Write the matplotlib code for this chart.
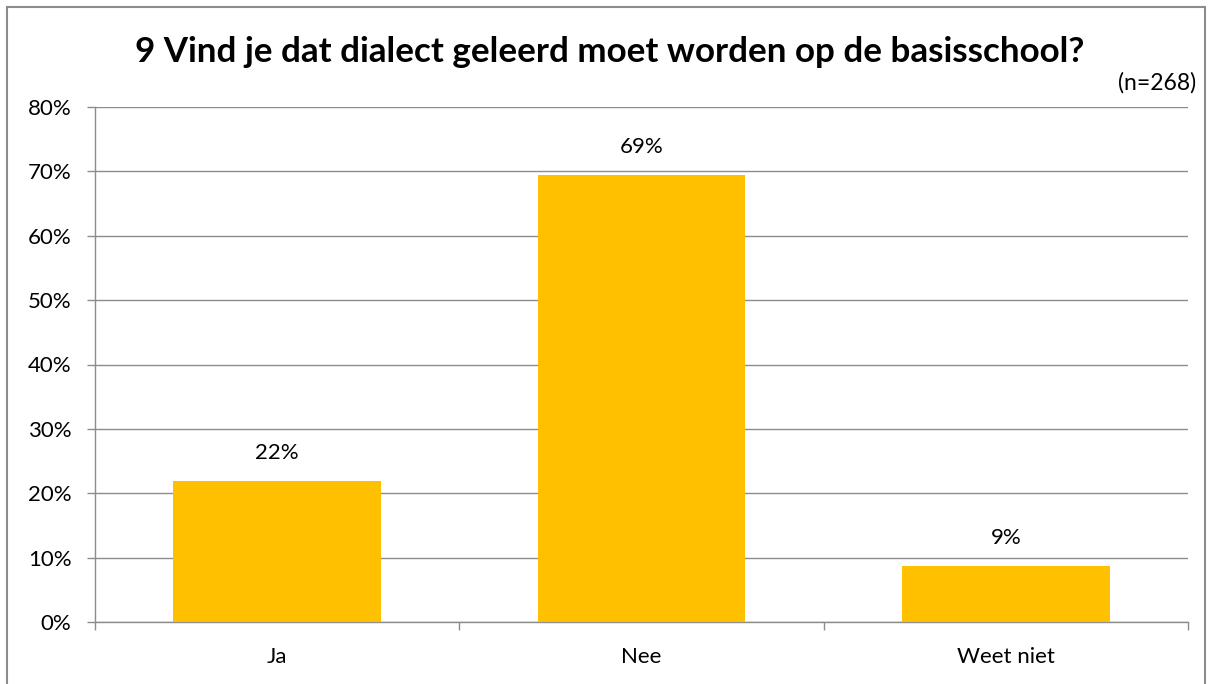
import matplotlib.pyplot as plt
from matplotlib.patches import Rectangle

categories = ['Ja', 'Nee', 'Weet niet']
values = [21.9, 69.4, 8.7]
labels = ['22%', '69%', '9%']
yticks = [0, 10, 20, 30, 40, 50, 60, 70, 80]

plt.rcParams['font.family'] = ['Lato', 'DejaVu Sans']

W, H = 1213, 684
fig = plt.figure(figsize=(W / 100, H / 100), dpi=100)
ax = fig.add_axes([95 / W, 62 / H, (1188 - 95) / W, (622 - 107) / H])

grid_c = '#8c8c8c'
x = range(len(categories))
ax.bar(x, values, width=0.57, color='#ffc000', zorder=3)
for i, v in enumerate(values):
    ax.annotate(labels[i], (i, v), xytext=(0, 13), textcoords='offset points',
                ha='center', va='bottom', fontsize=16)

ax.set_xlim(-0.5, len(categories) - 0.5)
ax.set_ylim(0, 80)
ax.set_yticks(yticks)
ax.set_yticklabels([f'{t}%' for t in yticks], fontsize=16)
ax.yaxis.grid(True, color=grid_c, linewidth=1, zorder=0)

# categorie-labels tussen de tickmarks
ax.set_xticks([-0.5, 0.5, 1.5, 2.5])
ax.set_xticklabels([])
ax.set_xticks(list(x), minor=True)
ax.set_xticklabels(categories, minor=True, fontsize=16)
ax.tick_params(axis='x', which='minor', length=0, pad=18)
ax.tick_params(axis='x', which='major', length=6, color=grid_c, width=1)
ax.tick_params(axis='y', length=6, color=grid_c, width=1, pad=11)

for s in ['top', 'right']:
    ax.spines[s].set_visible(False)
for s in ['left', 'bottom']:
    ax.spines[s].set_color(grid_c)
    ax.spines[s].set_linewidth(1)

fig.text(610 / W, 1 - 52 / H, '9 Vind je dat dialect geleerd moet worden op de basisschool?',
         ha='center', va='center', fontsize=25.2, fontweight='bold')
fig.text(1196 / W, 1 - 83 / H, '(n=268)', ha='right', va='center', fontsize=16.5)

fig.patches.append(Rectangle((7 / W, -0.01), (1205 - 7) / W, 1 - 7 / H + 0.01,
                             transform=fig.transFigure, fill=False,
                             edgecolor='#8c8c8c', linewidth=1.5))

fig.savefig('out.png', dpi=100)
